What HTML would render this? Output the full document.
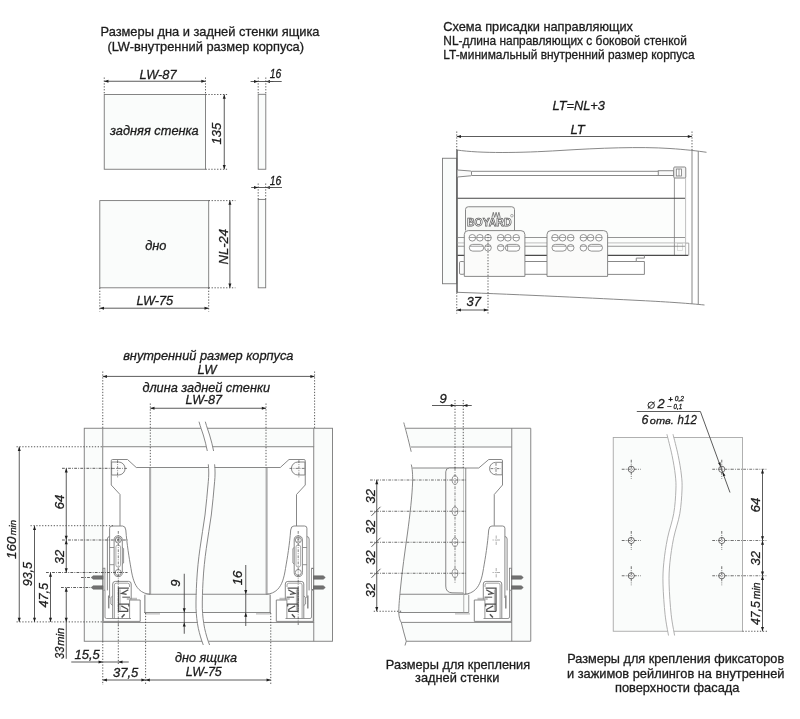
<!DOCTYPE html>
<html lang="ru"><head><meta charset="utf-8"><title>Размеры и схема присадки</title>
<style>
html,body{margin:0;padding:0;background:#fff}
body{width:800px;height:719px;overflow:hidden}
svg{display:block;will-change:transform;font-family:"Liberation Sans",sans-serif;fill:#1c1c1c}
svg text{fill:#1c1c1c;stroke:#1c1c1c;stroke-width:0.3px}
</style></head><body>
<svg width="800" height="719" viewBox="0 0 800 719">
<rect x="0" y="0" width="800" height="719" fill="#ffffff"/>
<g id="figA">
<text x="100.50" y="36.40" font-size="12.8" text-anchor="start" textLength="219.00" lengthAdjust="spacingAndGlyphs">Размеры дна и задней стенки ящика</text>
<text x="107.40" y="50.60" font-size="12.8" text-anchor="start" textLength="196.60" lengthAdjust="spacingAndGlyphs">(LW-внутренний размер корпуса)</text>
<rect x="104.25" y="94.50" width="101.25" height="74.75" fill="#fafcfb" stroke="#787878" stroke-width="0.9"/>
<line x1="104.25" y1="77.50" x2="104.25" y2="94.50" stroke="#4a4a4a" stroke-width="0.9" stroke-dasharray="1.3 1.6"/>
<line x1="205.50" y1="77.50" x2="205.50" y2="94.50" stroke="#4a4a4a" stroke-width="0.9" stroke-dasharray="1.3 1.6"/>
<line x1="104.25" y1="81.25" x2="205.50" y2="81.25" stroke="#4a4a4a" stroke-width="0.9"/>
<polygon points="104.25,81.25 108.45,79.75 108.45,82.75" fill="#1e1e1e"/>
<polygon points="205.50,81.25 201.30,82.75 201.30,79.75" fill="#1e1e1e"/>
<text x="139.50" y="78.60" font-size="13" font-style="italic" text-anchor="start" textLength="37.00" lengthAdjust="spacingAndGlyphs">LW-87</text>
<text x="110.00" y="135.00" font-size="12.8" font-style="italic" text-anchor="start" textLength="88.75" lengthAdjust="spacingAndGlyphs">задняя стенка</text>
<line x1="205.50" y1="94.50" x2="228.00" y2="94.50" stroke="#4a4a4a" stroke-width="0.9" stroke-dasharray="1.3 1.6"/>
<line x1="205.50" y1="169.25" x2="228.00" y2="169.25" stroke="#4a4a4a" stroke-width="0.9" stroke-dasharray="1.3 1.6"/>
<line x1="224.25" y1="94.50" x2="224.25" y2="169.25" stroke="#4a4a4a" stroke-width="0.9"/>
<polygon points="224.25,94.50 225.75,98.70 222.75,98.70" fill="#1e1e1e"/>
<polygon points="224.25,169.25 222.75,165.05 225.75,165.05" fill="#1e1e1e"/>
<text x="221.00" y="133.70" font-size="13" font-style="italic" text-anchor="middle" transform="rotate(-90 221.00 133.70)">135</text>
<rect x="258.20" y="94.30" width="7.60" height="74.95" fill="#fafcfb" stroke="#787878" stroke-width="0.9"/>
<line x1="258.20" y1="77.50" x2="258.20" y2="94.30" stroke="#4a4a4a" stroke-width="0.9" stroke-dasharray="1.3 1.6"/>
<line x1="265.80" y1="77.50" x2="265.80" y2="94.30" stroke="#4a4a4a" stroke-width="0.9" stroke-dasharray="1.3 1.6"/>
<line x1="250.60" y1="81.50" x2="273.40" y2="81.50" stroke="#4a4a4a" stroke-width="0.9"/>
<polygon points="258.20,81.50 254.00,83.00 254.00,80.00" fill="#1e1e1e"/>
<polygon points="265.80,81.50 270.00,80.00 270.00,83.00" fill="#1e1e1e"/>
<line x1="265.50" y1="81.50" x2="281.70" y2="81.50" stroke="#4a4a4a" stroke-width="0.9"/>
<text x="269.80" y="78.40" font-size="12.4" font-style="italic" text-anchor="start" textLength="11.60" lengthAdjust="spacingAndGlyphs">16</text>
<rect x="99.80" y="200.60" width="108.90" height="87.20" fill="#fafcfb" stroke="#787878" stroke-width="0.9"/>
<line x1="208.70" y1="200.60" x2="235.40" y2="200.60" stroke="#4a4a4a" stroke-width="0.9" stroke-dasharray="1.3 1.6"/>
<line x1="208.70" y1="287.80" x2="235.40" y2="287.80" stroke="#4a4a4a" stroke-width="0.9" stroke-dasharray="1.3 1.6"/>
<line x1="229.90" y1="200.60" x2="229.90" y2="287.80" stroke="#4a4a4a" stroke-width="0.9"/>
<polygon points="229.90,200.60 231.40,204.80 228.40,204.80" fill="#1e1e1e"/>
<polygon points="229.90,287.80 228.40,283.60 231.40,283.60" fill="#1e1e1e"/>
<text x="228.30" y="246.70" font-size="13" font-style="italic" text-anchor="middle" transform="rotate(-90 228.30 246.70)">NL-24</text>
<text x="145.20" y="250.10" font-size="12.8" font-style="italic" text-anchor="start">дно</text>
<line x1="99.80" y1="287.80" x2="99.80" y2="311.50" stroke="#4a4a4a" stroke-width="0.9" stroke-dasharray="1.3 1.6"/>
<line x1="208.70" y1="287.80" x2="208.70" y2="311.50" stroke="#4a4a4a" stroke-width="0.9" stroke-dasharray="1.3 1.6"/>
<line x1="99.80" y1="308.20" x2="208.70" y2="308.20" stroke="#4a4a4a" stroke-width="0.9"/>
<polygon points="99.80,308.20 104.00,306.70 104.00,309.70" fill="#1e1e1e"/>
<polygon points="208.70,308.20 204.50,309.70 204.50,306.70" fill="#1e1e1e"/>
<text x="136.40" y="305.00" font-size="13" font-style="italic" text-anchor="start" textLength="36.80" lengthAdjust="spacingAndGlyphs">LW-75</text>
<rect x="258.20" y="199.40" width="7.50" height="88.40" fill="#fafcfb" stroke="#787878" stroke-width="0.9"/>
<line x1="258.20" y1="183.50" x2="258.20" y2="199.40" stroke="#4a4a4a" stroke-width="0.9" stroke-dasharray="1.3 1.6"/>
<line x1="265.70" y1="183.50" x2="265.70" y2="199.40" stroke="#4a4a4a" stroke-width="0.9" stroke-dasharray="1.3 1.6"/>
<line x1="251.20" y1="187.50" x2="272.70" y2="187.50" stroke="#4a4a4a" stroke-width="0.9"/>
<polygon points="258.20,187.50 254.00,189.00 254.00,186.00" fill="#1e1e1e"/>
<polygon points="265.70,187.50 269.90,186.00 269.90,189.00" fill="#1e1e1e"/>
<line x1="265.70" y1="187.50" x2="282.00" y2="187.50" stroke="#4a4a4a" stroke-width="0.9"/>
<text x="269.80" y="184.80" font-size="12.4" font-style="italic" text-anchor="start" textLength="11.60" lengthAdjust="spacingAndGlyphs">16</text>
</g>
<g id="figB">
<text x="443.30" y="30.80" font-size="12.8" text-anchor="start" textLength="189.70" lengthAdjust="spacingAndGlyphs">Схема присадки направляющих</text>
<text x="443.30" y="44.80" font-size="12.8" text-anchor="start" textLength="243.50" lengthAdjust="spacingAndGlyphs">NL-длина направляющих с боковой стенкой</text>
<text x="443.30" y="58.80" font-size="12.8" text-anchor="start" textLength="251.30" lengthAdjust="spacingAndGlyphs">LT-минимальный внутренний размер корпуса</text>
<text x="552.50" y="109.80" font-size="13" font-style="italic" text-anchor="start" textLength="52.50" lengthAdjust="spacingAndGlyphs">LT=NL+3</text>
<text x="570.50" y="133.80" font-size="13" font-style="italic" text-anchor="start">LT</text>
<line x1="456.75" y1="131.50" x2="456.75" y2="150.00" stroke="#4a4a4a" stroke-width="0.9" stroke-dasharray="1.3 1.6"/>
<line x1="692.00" y1="131.50" x2="692.00" y2="150.50" stroke="#4a4a4a" stroke-width="0.9" stroke-dasharray="1.3 1.6"/>
<line x1="456.75" y1="136.50" x2="692.00" y2="136.50" stroke="#4a4a4a" stroke-width="0.9"/>
<polygon points="456.75,136.50 460.95,135.00 460.95,138.00" fill="#1e1e1e"/>
<polygon points="692.00,136.50 687.80,138.00 687.80,135.00" fill="#1e1e1e"/>
<rect x="442.50" y="158.25" width="14.25" height="125.50" fill="#fafcfb" stroke="#7a7a7a" stroke-width="0.9"/>
<rect x="457.5" y="198.25" width="227.5" height="57" fill="#fcfdfc"/>
<path d="M457,150 C480,153.5 520,153 560,150.5 C600,148 640,146.5 670,148.5 C685,149.5 698,151 706.5,152.3" fill="none" stroke="#7a7a7a" stroke-width="0.9"/>
<path d="M457,292.3 C520,294.5 600,298.5 640,300.5 C670,302 690,303.5 704.5,305" fill="none" stroke="#7a7a7a" stroke-width="0.9"/>
<line x1="457.00" y1="150.00" x2="457.00" y2="292.50" stroke="#5a5a5a" stroke-width="1.5"/>
<line x1="692.00" y1="150.60" x2="692.00" y2="304.00" stroke="#7a7a7a" stroke-width="0.9"/>
<line x1="698.25" y1="151.30" x2="698.25" y2="304.50" stroke="#7a7a7a" stroke-width="0.9"/>
<path d="M457.6,170 L470.5,171 Q471.5,171.1 471.5,172 L471.5,174.8 Q471.5,175.6 470.5,175.8 L457.6,177" fill="#fafafa" stroke="#7a7a7a" stroke-width="0.9"/>
<line x1="471.50" y1="171.30" x2="658.25" y2="171.30" stroke="#7a7a7a" stroke-width="0.9"/>
<line x1="471.50" y1="175.50" x2="658.25" y2="175.50" stroke="#7a7a7a" stroke-width="0.9"/>
<rect x="658.25" y="170.75" width="15.50" height="4.75" fill="#fafafa" stroke="#7a7a7a" stroke-width="0.9"/>
<rect x="673.75" y="167.00" width="12.00" height="11.00" fill="#f4f4f4" stroke="#7a7a7a" stroke-width="0.9" rx="1"/>
<rect x="676.30" y="169.00" width="5.20" height="7.00" fill="#fff" stroke="#7a7a7a" stroke-width="0.8"/>
<line x1="679.00" y1="169.00" x2="679.00" y2="176.00" stroke="#7a7a7a" stroke-width="0.7"/>
<line x1="674.40" y1="178.00" x2="674.40" y2="255.00" stroke="#8c8c8c" stroke-width="0.9"/>
<line x1="685.60" y1="178.00" x2="685.60" y2="255.00" stroke="#b8b8b8" stroke-width="0.9"/>
<line x1="457.50" y1="198.25" x2="685.00" y2="198.25" stroke="#444" stroke-width="1"/>
<path d="M685.6,243.1 L688.75,243.1 L688.75,255.4" fill="none" stroke="#9a9a9a" stroke-width="0.9"/>
<rect x="677.50" y="243.50" width="5.00" height="7.00" fill="none" stroke="#d0d0d0" stroke-width="0.7"/>
<line x1="457.50" y1="237.50" x2="685.00" y2="237.50" stroke="#7a7a7a" stroke-width="0.8"/>
<line x1="457.50" y1="242.90" x2="685.00" y2="242.90" stroke="#b0b0b0" stroke-width="0.8"/>
<line x1="457.50" y1="246.25" x2="685.00" y2="246.25" stroke="#7a7a7a" stroke-width="0.8"/>
<line x1="457.50" y1="255.40" x2="688.25" y2="255.40" stroke="#4a4a4a" stroke-width="1.1"/>
<line x1="525.00" y1="261.50" x2="547.00" y2="261.50" stroke="#7a7a7a" stroke-width="0.9"/>
<line x1="525.00" y1="274.30" x2="547.00" y2="274.30" stroke="#7a7a7a" stroke-width="0.9"/>
<path d="M608,261.5 L636.25,261.5 L636.25,258.1 L644.4,258.1 L644.4,255.4 M636.25,261.5 L644.4,261.5 L644.4,274.4 L608,274.4" fill="none" stroke="#7a7a7a" stroke-width="0.9"/>
<rect x="459.50" y="261.50" width="5.00" height="12.80" fill="#fafafa" stroke="#7a7a7a" stroke-width="0.9" rx="1.2"/>
<path d="M465.5,230.5 L465.5,209.5 Q465.5,206.75 468.3,206.75 L511.7,206.75 Q514.5,206.75 514.5,209.5 L514.5,230.5" fill="#f8f9f7" stroke="#7a7a7a" stroke-width="0.9"/>
<text x="467" y="226.1" font-size="11.6" font-weight="bold" textLength="44.5" lengthAdjust="spacingAndGlyphs" style="fill:#fff;stroke:#5a5a5a;stroke-width:0.75px">BOYARD</text>
<path d="M491.9,217.4 L493.3,212.3 L494.6,217.4 M494.7,217.4 L496.1,212.3 L497.4,217.4 M497.5,217.4 L498.9,212.3 L500.2,217.4" fill="none" stroke="#555" stroke-width="0.7"/>
<circle cx="511.9" cy="215.7" r="1.3" fill="none" stroke="#7a7a7a" stroke-width="0.6"/>
<path d="M464.3,276.4 L464.3,234.5 Q464.3,230.6 468.3,230.6 L520.9,230.6 Q524.9,230.6 524.9,234.5 L524.9,276.4 Z" fill="#fbfbfa" stroke="#7a7a7a" stroke-width="0.9"/>
<circle cx="472.30" cy="237.8" r="3.3" fill="#fff" stroke="#7a7a7a" stroke-width="0.8"/>
<line x1="469.10" y1="237.50" x2="475.50" y2="237.50" stroke="#7a7a7a" stroke-width="0.7"/>
<circle cx="479.90" cy="237.8" r="3.3" fill="#fff" stroke="#7a7a7a" stroke-width="0.8"/>
<line x1="476.70" y1="237.50" x2="483.10" y2="237.50" stroke="#7a7a7a" stroke-width="0.7"/>
<circle cx="488.00" cy="237.8" r="3.3" fill="#fff" stroke="#7a7a7a" stroke-width="0.8"/>
<line x1="484.80" y1="237.50" x2="491.20" y2="237.50" stroke="#7a7a7a" stroke-width="0.7"/>
<circle cx="500.70" cy="237.8" r="3.3" fill="#fff" stroke="#7a7a7a" stroke-width="0.8"/>
<line x1="497.50" y1="237.50" x2="503.90" y2="237.50" stroke="#7a7a7a" stroke-width="0.7"/>
<circle cx="507.90" cy="237.8" r="3.3" fill="#fff" stroke="#7a7a7a" stroke-width="0.8"/>
<line x1="504.70" y1="237.50" x2="511.10" y2="237.50" stroke="#7a7a7a" stroke-width="0.7"/>
<circle cx="516.20" cy="237.8" r="3.3" fill="#fff" stroke="#7a7a7a" stroke-width="0.8"/>
<line x1="513.00" y1="237.50" x2="519.40" y2="237.50" stroke="#7a7a7a" stroke-width="0.7"/>
<rect x="469.30" y="244.4" width="14.4" height="6.7" rx="3.35" fill="#fff" stroke="#7a7a7a" stroke-width="0.8"/>
<circle cx="488.00" cy="247.75" r="3.3" fill="#fff" stroke="#7a7a7a" stroke-width="0.8"/>
<circle cx="500.70" cy="247.75" r="3.3" fill="#fff" stroke="#7a7a7a" stroke-width="0.8"/>
<rect x="505.30" y="244.4" width="14.5" height="6.7" rx="3.35" fill="#fff" stroke="#7a7a7a" stroke-width="0.8"/>
<line x1="469.90" y1="246.25" x2="483.10" y2="246.25" stroke="#7a7a7a" stroke-width="0.7"/>
<line x1="485.00" y1="246.25" x2="491.00" y2="246.25" stroke="#7a7a7a" stroke-width="0.7"/>
<line x1="497.70" y1="246.25" x2="503.70" y2="246.25" stroke="#7a7a7a" stroke-width="0.7"/>
<line x1="505.90" y1="246.25" x2="519.20" y2="246.25" stroke="#7a7a7a" stroke-width="0.7"/>
<line x1="507.60" y1="244.60" x2="507.60" y2="250.90" stroke="#7a7a7a" stroke-width="0.7"/>
<path d="M547,276.4 L547,234.5 Q547,230.6 551,230.6 L603.6,230.6 Q607.6,230.6 607.6,234.5 L607.6,276.4 Z" fill="#fbfbfa" stroke="#7a7a7a" stroke-width="0.9"/>
<circle cx="555.00" cy="237.8" r="3.3" fill="#fff" stroke="#7a7a7a" stroke-width="0.8"/>
<line x1="551.80" y1="237.50" x2="558.20" y2="237.50" stroke="#7a7a7a" stroke-width="0.7"/>
<circle cx="562.60" cy="237.8" r="3.3" fill="#fff" stroke="#7a7a7a" stroke-width="0.8"/>
<line x1="559.40" y1="237.50" x2="565.80" y2="237.50" stroke="#7a7a7a" stroke-width="0.7"/>
<circle cx="570.70" cy="237.8" r="3.3" fill="#fff" stroke="#7a7a7a" stroke-width="0.8"/>
<line x1="567.50" y1="237.50" x2="573.90" y2="237.50" stroke="#7a7a7a" stroke-width="0.7"/>
<circle cx="583.40" cy="237.8" r="3.3" fill="#fff" stroke="#7a7a7a" stroke-width="0.8"/>
<line x1="580.20" y1="237.50" x2="586.60" y2="237.50" stroke="#7a7a7a" stroke-width="0.7"/>
<circle cx="590.60" cy="237.8" r="3.3" fill="#fff" stroke="#7a7a7a" stroke-width="0.8"/>
<line x1="587.40" y1="237.50" x2="593.80" y2="237.50" stroke="#7a7a7a" stroke-width="0.7"/>
<circle cx="598.90" cy="237.8" r="3.3" fill="#fff" stroke="#7a7a7a" stroke-width="0.8"/>
<line x1="595.70" y1="237.50" x2="602.10" y2="237.50" stroke="#7a7a7a" stroke-width="0.7"/>
<rect x="552.00" y="244.4" width="14.4" height="6.7" rx="3.35" fill="#fff" stroke="#7a7a7a" stroke-width="0.8"/>
<circle cx="570.70" cy="247.75" r="3.3" fill="#fff" stroke="#7a7a7a" stroke-width="0.8"/>
<circle cx="583.40" cy="247.75" r="3.3" fill="#fff" stroke="#7a7a7a" stroke-width="0.8"/>
<rect x="588.00" y="244.4" width="14.5" height="6.7" rx="3.35" fill="#fff" stroke="#7a7a7a" stroke-width="0.8"/>
<line x1="552.60" y1="246.25" x2="565.80" y2="246.25" stroke="#7a7a7a" stroke-width="0.7"/>
<line x1="567.70" y1="246.25" x2="573.70" y2="246.25" stroke="#7a7a7a" stroke-width="0.7"/>
<line x1="580.40" y1="246.25" x2="586.40" y2="246.25" stroke="#7a7a7a" stroke-width="0.7"/>
<line x1="588.60" y1="246.25" x2="601.90" y2="246.25" stroke="#7a7a7a" stroke-width="0.7"/>
<line x1="488.00" y1="234.00" x2="488.00" y2="313.50" stroke="#4a4a4a" stroke-width="0.9" stroke-dasharray="1.3 1.6"/>
<line x1="456.75" y1="292.50" x2="456.75" y2="313.50" stroke="#4a4a4a" stroke-width="0.9" stroke-dasharray="1.3 1.6"/>
<line x1="456.75" y1="310.00" x2="488.00" y2="310.00" stroke="#4a4a4a" stroke-width="0.9"/>
<polygon points="456.75,310.00 460.95,308.50 460.95,311.50" fill="#1e1e1e"/>
<polygon points="488.00,310.00 483.80,311.50 483.80,308.50" fill="#1e1e1e"/>
<text x="466.50" y="306.00" font-size="13" font-style="italic" text-anchor="start">37</text>
</g>
<g id="figC">
<text x="123.20" y="360.00" font-size="12.8" font-style="italic" text-anchor="start" textLength="170.30" lengthAdjust="spacingAndGlyphs">внутренний размер корпуса</text>
<text x="197.60" y="373.50" font-size="13" font-style="italic" text-anchor="start">LW</text>
<text x="142.40" y="392.00" font-size="12.8" font-style="italic" text-anchor="start" textLength="127.60" lengthAdjust="spacingAndGlyphs">длина задней стенки</text>
<text x="185.60" y="404.30" font-size="13" font-style="italic" text-anchor="start" textLength="36.40" lengthAdjust="spacingAndGlyphs">LW-87</text>
<rect x="84.25" y="428.25" width="248.25" height="213.00" fill="#fafcfb" stroke="#7a7a7a" stroke-width="0.9"/>
<rect x="102.75" y="446.75" width="211.00" height="175.65" fill="#fff" stroke="#7a7a7a" stroke-width="0.9"/>
<line x1="102.75" y1="428.25" x2="102.75" y2="446.75" stroke="#7a7a7a" stroke-width="0.9"/>
<line x1="102.75" y1="622.40" x2="102.75" y2="641.25" stroke="#7a7a7a" stroke-width="0.9"/>
<line x1="313.75" y1="428.25" x2="313.75" y2="446.75" stroke="#7a7a7a" stroke-width="0.9"/>
<line x1="313.75" y1="622.40" x2="313.75" y2="641.25" stroke="#7a7a7a" stroke-width="0.9"/>
<rect x="150" y="467.5" width="117" height="127" fill="#fafcfb"/>
<rect x="144.2" y="594.25" width="126.5" height="18.3" fill="#fafcfb"/>
<line x1="150.10" y1="467.50" x2="150.10" y2="594.25" stroke="#adadad" stroke-width="2.1"/>
<line x1="266.60" y1="467.50" x2="266.60" y2="594.25" stroke="#adadad" stroke-width="2.1"/>
<line x1="149.50" y1="467.50" x2="267.00" y2="467.50" stroke="#7a7a7a" stroke-width="0.9"/>
<line x1="144.80" y1="594.25" x2="144.80" y2="613.00" stroke="#a8a8a8" stroke-width="1.6"/>
<line x1="270.20" y1="594.25" x2="270.20" y2="613.00" stroke="#a8a8a8" stroke-width="1.6"/>
<line x1="144.20" y1="594.25" x2="270.75" y2="594.25" stroke="#7a7a7a" stroke-width="0.9"/>
<line x1="144.20" y1="612.50" x2="270.75" y2="612.50" stroke="#7a7a7a" stroke-width="0.9"/>
<path d="M145,613.9 L160,613.9 M256,613.9 L270.5,613.9" fill="none" stroke="#9a9a9a" stroke-width="0.8"/>
<path d="M199,421.7 L205.3,421.7 L213.8,451 L207.3,451 Z M208.3,464.3 L214.6,464.3 L214.7,481.7 L211.7,515 L206.3,548.3 L203.3,581.7 L202.5,608.3 L204.7,628.3 L209.6,645 L203.3,645 L198.3,628.3 L196,608.3 L196.7,581.7 L200,548.3 L205,515 L208.3,481.7 Z" fill="#fff" stroke="none"/>
<path d="M199,421.7 C200.5,427 202,431 203.3,435 C205,440.5 206.3,446 207.3,451" fill="none" stroke="#7a7a7a" stroke-width="0.9"/>
<path d="M205.30,421.70 C206.80,427.00 208.30,431.00 209.60,435.00 C211.30,440.50 212.60,446.00 213.60,451.00 " fill="none" stroke="#7a7a7a" stroke-width="0.9"/>
<path d="M208.3,464.3 C208.9,470 208.9,476 208.3,481.7 C207.3,493 206.3,504 205,515 C203.5,526 201.5,537 200,548.3 C198.5,559 197.3,570 196.7,581.7 C196.2,591 195.9,600 196,608.3 C196.3,615 197,622 198.3,628.3 C199.6,634 201.3,640 203.3,645" fill="none" stroke="#7a7a7a" stroke-width="0.9"/>
<path d="M214.60,464.30 C215.20,470.00 215.20,476.00 214.60,481.70 C213.60,493.00 212.60,504.00 211.30,515.00 C209.80,526.00 207.80,537.00 206.30,548.30 C204.80,559.00 203.60,570.00 203.00,581.70 C202.50,591.00 202.20,600.00 202.30,608.30 C202.60,615.00 203.30,622.00 204.60,628.30 C205.90,634.00 207.60,640.00 209.60,645.00 " fill="none" stroke="#7a7a7a" stroke-width="0.9"/>
<path d="M150,467.5 L136.25,467.5 L127.5,459.5 L112.6,459.5 Q111.25,459.5 111.25,460.8 L111.25,485 L120,494.5 L120,526" fill="none" stroke="#7a7a7a" stroke-width="0.9"/>
<path d="M111.6,462 L118.6,462 A6.5,6.5 0 0 1 118.6,475 L111.6,475 Z" fill="#fcfcfc" stroke="#7a7a7a" stroke-width="0.9"/>
<line x1="112.00" y1="468.40" x2="127.50" y2="468.40" stroke="#4a4a4a" stroke-width="0.7" stroke-dasharray="2.8 1.2 0.9 1.2"/>
<line x1="117.60" y1="460.20" x2="117.60" y2="477.50" stroke="#4a4a4a" stroke-width="0.7" stroke-dasharray="2.8 1.2 0.9 1.2"/>
<path d="M109.6,598 L109.6,528.2 Q109.6,526 112,526 L122.6,526 Q125.4,526 125.8,530 C127,545 129,557 131,568.5 C132.5,578 134.5,585 139,589.5 C142,592.5 146,594 150,594.25" fill="#fff" stroke="#7a7a7a" stroke-width="0.9"/>
<path d="M109.6,536.5 Q107.4,536.8 107.4,539 L107.4,590.4" fill="none" stroke="#7a7a7a" stroke-width="0.9"/>
<path d="M109.6,547.5 L114,547.5 M109.6,564.7 L114,564.7" fill="none" stroke="#7a7a7a" stroke-width="0.8"/>
<rect x="114.1" y="535.9" width="8.2" height="40.7" rx="4.1" fill="#fff" stroke="#7a7a7a" stroke-width="0.9"/>
<rect x="115.9" y="545" width="4.6" height="22" rx="2" fill="none" stroke="#9a9a9a" stroke-width="0.8"/>
<circle cx="118.2" cy="540" r="3" fill="none" stroke="#7a7a7a" stroke-width="0.8"/>
<circle cx="118.2" cy="572.5" r="3" fill="none" stroke="#7a7a7a" stroke-width="0.8"/>
<path d="M116.3,538 L120.1,542 M120.1,538 L116.3,542" fill="none" stroke="#7a7a7a" stroke-width="0.6"/>
<path d="M122.3,547.5 L123.6,548.5 L123.6,563 L122.3,564" fill="none" stroke="#7a7a7a" stroke-width="0.8"/>
<rect x="103.10" y="568.20" width="1.80" height="22.00" fill="#fff" stroke="#7a7a7a" stroke-width="0.8"/>
<path d="M103,575.8 L93.2,575.8 L91.2,577.5 L93.2,579.2 L103,579.2 Z" fill="#727272" stroke="#5a5a5a" stroke-width="0.5"/>
<path d="M103,585.8 L93.2,585.8 L91.2,587.5 L93.2,589.2 L103,589.2 Z" fill="#727272" stroke="#5a5a5a" stroke-width="0.5"/>
<path d="M103.2,590.4 L103.2,621.4 L140.2,621.4 L140.2,600 L129.6,600" fill="none" stroke="#7a7a7a" stroke-width="0.9"/>
<path d="M105,590.4 L105,617 Q105,618.5 106.5,618.5 L131,618.5" fill="none" stroke="#7a7a7a" stroke-width="0.8"/>
<line x1="108.70" y1="595.50" x2="108.70" y2="608.40" stroke="#8a8a8a" stroke-width="1.5"/>
<path d="M112.7,618.5 L112.7,584 Q112.7,581.4 115.3,581.4 L128.6,581.4 Q131.2,581.4 131.2,584 L131.2,599 L126.8,599" fill="#fff" stroke="#7a7a7a" stroke-width="0.9"/>
<path d="M114.4,618.5 L114.4,585 Q114.4,583.2 116.2,583.2 L127.7,583.2 Q129.5,583.2 129.5,585 L129.5,587" fill="none" stroke="#7a7a7a" stroke-width="0.7"/>
<path d="M112.7,596 L110.9,597.5 L110.9,604 L112.7,605.5" fill="none" stroke="#7a7a7a" stroke-width="0.8"/>
<path d="M118.5,611.4 L118.5,588.2 L128.9,588.2" fill="none" stroke="#505050" stroke-width="1.3"/>
<line x1="120.10" y1="589.50" x2="120.10" y2="610.50" stroke="#9a9a9a" stroke-width="0.8"/>
<path d="M128.3,589.7 L121.6,593.5 L126.6,594.3" fill="none" stroke="#505050" stroke-width="1.3"/>
<path d="M122.3,597.2 L130,597.2" fill="none" stroke="#6a6a6a" stroke-width="1.2"/>
<path d="M118.5,604.2 L128.9,604.2 L128.9,606.5" fill="none" stroke="#505050" stroke-width="1.3"/>
<path d="M121.3,605.9 L127.7,609.3 L127.7,611.3 L118.5,611.3" fill="none" stroke="#505050" stroke-width="1.3"/>
<path d="M121.6,617.6 L124.6,614.2" fill="none" stroke="#505050" stroke-width="1.5"/>
<path d="M130,598.3 L137,598.3 M130.5,599.3 L137,599.3" fill="none" stroke="#9a9a9a" stroke-width="0.7"/>
<line x1="129.60" y1="600.00" x2="129.60" y2="618.50" stroke="#7a7a7a" stroke-width="0.8"/>
<line x1="118.30" y1="531.00" x2="118.30" y2="625.00" stroke="#4a4a4a" stroke-width="0.7" stroke-dasharray="2.8 1.2 0.9 1.2"/>
<g transform="translate(416.5 0) scale(-1 1)">
<path d="M150,467.5 L136.25,467.5 L127.5,459.5 L112.6,459.5 Q111.25,459.5 111.25,460.8 L111.25,485 L120,494.5 L120,526" fill="none" stroke="#7a7a7a" stroke-width="0.9"/>
<path d="M111.6,462 L118.6,462 A6.5,6.5 0 0 1 118.6,475 L111.6,475 Z" fill="#fcfcfc" stroke="#7a7a7a" stroke-width="0.9"/>
<line x1="112.00" y1="468.40" x2="127.50" y2="468.40" stroke="#4a4a4a" stroke-width="0.7" stroke-dasharray="2.8 1.2 0.9 1.2"/>
<line x1="117.60" y1="460.20" x2="117.60" y2="477.50" stroke="#4a4a4a" stroke-width="0.7" stroke-dasharray="2.8 1.2 0.9 1.2"/>
<path d="M109.6,598 L109.6,528.2 Q109.6,526 112,526 L122.6,526 Q125.4,526 125.8,530 C127,545 129,557 131,568.5 C132.5,578 134.5,585 139,589.5 C142,592.5 146,594 150,594.25" fill="#fff" stroke="#7a7a7a" stroke-width="0.9"/>
<path d="M109.6,536.5 Q107.4,536.8 107.4,539 L107.4,590.4" fill="none" stroke="#7a7a7a" stroke-width="0.9"/>
<path d="M109.6,547.5 L114,547.5 M109.6,564.7 L114,564.7" fill="none" stroke="#7a7a7a" stroke-width="0.8"/>
<rect x="114.1" y="535.9" width="8.2" height="40.7" rx="4.1" fill="#fff" stroke="#7a7a7a" stroke-width="0.9"/>
<rect x="115.9" y="545" width="4.6" height="22" rx="2" fill="none" stroke="#9a9a9a" stroke-width="0.8"/>
<circle cx="118.2" cy="540" r="3" fill="none" stroke="#7a7a7a" stroke-width="0.8"/>
<circle cx="118.2" cy="572.5" r="3" fill="none" stroke="#7a7a7a" stroke-width="0.8"/>
<path d="M116.3,538 L120.1,542 M120.1,538 L116.3,542" fill="none" stroke="#7a7a7a" stroke-width="0.6"/>
<path d="M122.3,547.5 L123.6,548.5 L123.6,563 L122.3,564" fill="none" stroke="#7a7a7a" stroke-width="0.8"/>
<rect x="103.10" y="568.20" width="1.80" height="22.00" fill="#fff" stroke="#7a7a7a" stroke-width="0.8"/>
<path d="M103,575.8 L93.2,575.8 L91.2,577.5 L93.2,579.2 L103,579.2 Z" fill="#727272" stroke="#5a5a5a" stroke-width="0.5"/>
<path d="M103,585.8 L93.2,585.8 L91.2,587.5 L93.2,589.2 L103,589.2 Z" fill="#727272" stroke="#5a5a5a" stroke-width="0.5"/>
<path d="M103.2,590.4 L103.2,621.4 L140.2,621.4 L140.2,600 L129.6,600" fill="none" stroke="#7a7a7a" stroke-width="0.9"/>
<path d="M105,590.4 L105,617 Q105,618.5 106.5,618.5 L131,618.5" fill="none" stroke="#7a7a7a" stroke-width="0.8"/>
<line x1="108.70" y1="595.50" x2="108.70" y2="608.40" stroke="#8a8a8a" stroke-width="1.5"/>
<path d="M112.7,618.5 L112.7,584 Q112.7,581.4 115.3,581.4 L128.6,581.4 Q131.2,581.4 131.2,584 L131.2,599 L126.8,599" fill="#fff" stroke="#7a7a7a" stroke-width="0.9"/>
<path d="M114.4,618.5 L114.4,585 Q114.4,583.2 116.2,583.2 L127.7,583.2 Q129.5,583.2 129.5,585 L129.5,587" fill="none" stroke="#7a7a7a" stroke-width="0.7"/>
<path d="M112.7,596 L110.9,597.5 L110.9,604 L112.7,605.5" fill="none" stroke="#7a7a7a" stroke-width="0.8"/>
<path d="M118.5,611.4 L118.5,588.2 L128.9,588.2" fill="none" stroke="#505050" stroke-width="1.3"/>
<line x1="120.10" y1="589.50" x2="120.10" y2="610.50" stroke="#9a9a9a" stroke-width="0.8"/>
<path d="M128.3,589.7 L121.6,593.5 L126.6,594.3" fill="none" stroke="#505050" stroke-width="1.3"/>
<path d="M122.3,597.2 L130,597.2" fill="none" stroke="#6a6a6a" stroke-width="1.2"/>
<path d="M118.5,604.2 L128.9,604.2 L128.9,606.5" fill="none" stroke="#505050" stroke-width="1.3"/>
<path d="M121.3,605.9 L127.7,609.3 L127.7,611.3 L118.5,611.3" fill="none" stroke="#505050" stroke-width="1.3"/>
<path d="M121.6,617.6 L124.6,614.2" fill="none" stroke="#505050" stroke-width="1.5"/>
<path d="M130,598.3 L137,598.3 M130.5,599.3 L137,599.3" fill="none" stroke="#9a9a9a" stroke-width="0.7"/>
<line x1="129.60" y1="600.00" x2="129.60" y2="618.50" stroke="#7a7a7a" stroke-width="0.8"/>
<line x1="118.30" y1="531.00" x2="118.30" y2="625.00" stroke="#4a4a4a" stroke-width="0.7" stroke-dasharray="2.8 1.2 0.9 1.2"/>
</g>
<line x1="102.75" y1="371.50" x2="102.75" y2="428.25" stroke="#4a4a4a" stroke-width="0.9" stroke-dasharray="1.3 1.6"/>
<line x1="314.60" y1="371.50" x2="314.60" y2="428.25" stroke="#4a4a4a" stroke-width="0.9" stroke-dasharray="1.3 1.6"/>
<line x1="102.75" y1="376.40" x2="314.60" y2="376.40" stroke="#4a4a4a" stroke-width="0.9"/>
<polygon points="102.75,376.40 106.95,374.90 106.95,377.90" fill="#1e1e1e"/>
<polygon points="314.60,376.40 310.40,377.90 310.40,374.90" fill="#1e1e1e"/>
<line x1="150.30" y1="403.50" x2="150.30" y2="467.50" stroke="#4a4a4a" stroke-width="0.9" stroke-dasharray="1.3 1.6"/>
<line x1="266.00" y1="403.50" x2="266.00" y2="467.50" stroke="#4a4a4a" stroke-width="0.9" stroke-dasharray="1.3 1.6"/>
<line x1="150.30" y1="408.25" x2="266.00" y2="408.25" stroke="#4a4a4a" stroke-width="0.9"/>
<polygon points="150.30,408.25 154.50,406.75 154.50,409.75" fill="#1e1e1e"/>
<polygon points="266.00,408.25 261.80,409.75 261.80,406.75" fill="#1e1e1e"/>
<line x1="16.50" y1="446.75" x2="102.75" y2="446.75" stroke="#4a4a4a" stroke-width="0.9" stroke-dasharray="1.3 1.6"/>
<line x1="16.50" y1="621.90" x2="102.75" y2="621.90" stroke="#4a4a4a" stroke-width="0.9" stroke-dasharray="1.3 1.6"/>
<line x1="19.25" y1="446.75" x2="19.25" y2="621.90" stroke="#4a4a4a" stroke-width="0.9"/>
<polygon points="19.25,446.75 20.75,450.95 17.75,450.95" fill="#1e1e1e"/>
<polygon points="19.25,621.90 17.75,617.70 20.75,617.70" fill="#1e1e1e"/>
<text x="16.20" y="559.00" font-size="13" font-style="italic" text-anchor="start" textLength="22.40" lengthAdjust="spacingAndGlyphs" transform="rotate(-90 16.20 559.00)">160</text>
<text x="16.20" y="535.30" font-size="9.8" font-style="italic" text-anchor="start" textLength="15.30" lengthAdjust="spacingAndGlyphs" transform="rotate(-90 16.20 535.30)">min</text>
<line x1="62.00" y1="468.30" x2="112.00" y2="468.30" stroke="#4a4a4a" stroke-width="0.9" stroke-dasharray="2.8 1.2 0.9 1.2"/>
<line x1="62.00" y1="540.00" x2="127.50" y2="540.00" stroke="#4a4a4a" stroke-width="0.9" stroke-dasharray="2.8 1.2 0.9 1.2"/>
<line x1="46.00" y1="572.50" x2="127.50" y2="572.50" stroke="#4a4a4a" stroke-width="0.9" stroke-dasharray="2.8 1.2 0.9 1.2"/>
<line x1="66.25" y1="468.30" x2="66.25" y2="540.00" stroke="#4a4a4a" stroke-width="0.9"/>
<polygon points="66.25,468.30 67.75,472.50 64.75,472.50" fill="#1e1e1e"/>
<polygon points="66.25,540.00 64.75,535.80 67.75,535.80" fill="#1e1e1e"/>
<line x1="66.25" y1="540.00" x2="66.25" y2="572.50" stroke="#4a4a4a" stroke-width="0.9"/>
<polygon points="66.25,540.00 67.75,544.20 64.75,544.20" fill="#1e1e1e"/>
<polygon points="66.25,572.50 64.75,568.30 67.75,568.30" fill="#1e1e1e"/>
<text x="64.30" y="502.00" font-size="13" font-style="italic" text-anchor="middle" transform="rotate(-90 64.30 502.00)">64</text>
<text x="64.30" y="557.00" font-size="13" font-style="italic" text-anchor="middle" transform="rotate(-90 64.30 557.00)">32</text>
<line x1="30.50" y1="525.70" x2="113.50" y2="525.70" stroke="#4a4a4a" stroke-width="0.9" stroke-dasharray="1.3 1.6"/>
<line x1="34.50" y1="525.70" x2="34.50" y2="621.90" stroke="#4a4a4a" stroke-width="0.9"/>
<polygon points="34.50,525.70 36.00,529.90 33.00,529.90" fill="#1e1e1e"/>
<polygon points="34.50,621.90 33.00,617.70 36.00,617.70" fill="#1e1e1e"/>
<text x="32.00" y="586.30" font-size="13" font-style="italic" text-anchor="start" textLength="24.30" lengthAdjust="spacingAndGlyphs" transform="rotate(-90 32.00 586.30)">93,5</text>
<line x1="50.50" y1="572.50" x2="50.50" y2="621.90" stroke="#4a4a4a" stroke-width="0.9"/>
<polygon points="50.50,572.50 52.00,576.70 49.00,576.70" fill="#1e1e1e"/>
<polygon points="50.50,621.90 49.00,617.70 52.00,617.70" fill="#1e1e1e"/>
<text x="48.00" y="607.60" font-size="13" font-style="italic" text-anchor="start" textLength="24.80" lengthAdjust="spacingAndGlyphs" transform="rotate(-90 48.00 607.60)">47,5</text>
<line x1="61.00" y1="587.50" x2="91.00" y2="587.50" stroke="#4a4a4a" stroke-width="0.9" stroke-dasharray="2.8 1.2 0.9 1.2"/>
<line x1="81.00" y1="577.50" x2="91.00" y2="577.50" stroke="#4a4a4a" stroke-width="0.9" stroke-dasharray="2.8 1.2 0.9 1.2"/>
<line x1="66.25" y1="587.50" x2="66.25" y2="658.80" stroke="#4a4a4a" stroke-width="0.9"/>
<polygon points="66.25,587.50 67.75,591.70 64.75,591.70" fill="#1e1e1e"/>
<polygon points="66.25,621.90 64.75,617.70 67.75,617.70" fill="#1e1e1e"/>
<text x="63.80" y="659.00" font-size="13" font-style="italic" text-anchor="start" textLength="12.40" lengthAdjust="spacingAndGlyphs" transform="rotate(-90 63.80 659.00)">33</text>
<text x="63.80" y="645.80" font-size="11.2" font-style="italic" text-anchor="start" textLength="18.00" lengthAdjust="spacingAndGlyphs" transform="rotate(-90 63.80 645.80)">min</text>
<line x1="102.75" y1="641.25" x2="102.75" y2="685.00" stroke="#4a4a4a" stroke-width="0.9" stroke-dasharray="1.3 1.6"/>
<line x1="118.30" y1="625.00" x2="118.30" y2="664.00" stroke="#4a4a4a" stroke-width="0.9" stroke-dasharray="1.3 1.6"/>
<line x1="145.60" y1="613.00" x2="145.60" y2="685.00" stroke="#4a4a4a" stroke-width="0.9" stroke-dasharray="1.3 1.6"/>
<line x1="270.75" y1="613.00" x2="270.75" y2="684.00" stroke="#4a4a4a" stroke-width="0.9" stroke-dasharray="1.3 1.6"/>
<line x1="71.25" y1="662.00" x2="128.75" y2="662.00" stroke="#4a4a4a" stroke-width="0.9"/>
<polygon points="102.75,662.00 98.55,663.50 98.55,660.50" fill="#1e1e1e"/>
<polygon points="118.30,662.00 122.50,660.50 122.50,663.50" fill="#1e1e1e"/>
<text x="74.50" y="658.80" font-size="13" font-style="italic" text-anchor="start">15,5</text>
<line x1="102.75" y1="680.00" x2="145.60" y2="680.00" stroke="#4a4a4a" stroke-width="0.9"/>
<polygon points="102.75,680.00 106.95,678.50 106.95,681.50" fill="#1e1e1e"/>
<polygon points="145.60,680.00 141.40,681.50 141.40,678.50" fill="#1e1e1e"/>
<line x1="145.60" y1="680.00" x2="270.75" y2="680.00" stroke="#4a4a4a" stroke-width="0.9"/>
<polygon points="145.60,680.00 149.80,678.50 149.80,681.50" fill="#1e1e1e"/>
<polygon points="270.75,680.00 266.55,681.50 266.55,678.50" fill="#1e1e1e"/>
<text x="113.00" y="677.00" font-size="13" font-style="italic" text-anchor="start">37,5</text>
<text x="175.00" y="662.00" font-size="12.8" font-style="italic" text-anchor="start" textLength="62.00" lengthAdjust="spacingAndGlyphs">дно ящика</text>
<text x="185.75" y="676.30" font-size="13" font-style="italic" text-anchor="start" textLength="36.00" lengthAdjust="spacingAndGlyphs">LW-75</text>
<line x1="184.25" y1="573.75" x2="184.25" y2="633.75" stroke="#4a4a4a" stroke-width="0.9"/>
<polygon points="184.25,612.50 182.75,608.30 185.75,608.30" fill="#1e1e1e"/>
<polygon points="184.25,622.40 185.75,626.60 182.75,626.60" fill="#1e1e1e"/>
<text x="180.00" y="583.00" font-size="13" font-style="italic" text-anchor="middle" transform="rotate(-90 180.00 583.00)">9</text>
<line x1="245.75" y1="565.00" x2="245.75" y2="626.00" stroke="#4a4a4a" stroke-width="0.9"/>
<polygon points="245.75,594.25 244.25,590.05 247.25,590.05" fill="#1e1e1e"/>
<polygon points="245.75,612.50 247.25,616.70 244.25,616.70" fill="#1e1e1e"/>
<text x="242.00" y="578.00" font-size="13" font-style="italic" text-anchor="middle" transform="rotate(-90 242.00 578.00)">16</text>
</g>
<g id="figD">
<path d="M406,428.25 L530.75,428.25 L530.75,641.25 L406.25,641.25 C404.5,635 402.8,629 401.25,622.4 L511.75,622.4 L511.75,447 L411,447 C409.5,441 407.7,434.5 406,428.25 Z" fill="#fafcfb" stroke="none" stroke-width="0"/>
<line x1="406.00" y1="428.25" x2="530.75" y2="428.25" stroke="#7a7a7a" stroke-width="0.9"/>
<line x1="530.75" y1="428.25" x2="530.75" y2="641.25" stroke="#7a7a7a" stroke-width="0.9"/>
<line x1="406.25" y1="641.25" x2="530.75" y2="641.25" stroke="#7a7a7a" stroke-width="0.9"/>
<line x1="411.00" y1="447.00" x2="511.75" y2="447.00" stroke="#7a7a7a" stroke-width="0.9"/>
<line x1="401.25" y1="622.40" x2="511.75" y2="622.40" stroke="#7a7a7a" stroke-width="0.9"/>
<line x1="511.75" y1="428.25" x2="511.75" y2="641.25" stroke="#7a7a7a" stroke-width="0.9"/>
<path d="M403.75,422.5 C405,427 408.5,440 411.2,451.75" fill="none" stroke="#7a7a7a" stroke-width="0.9"/>
<path d="M411,468 L465.75,468 L465.75,594.25 L468.75,594.25 L468.75,612.5 L398.75,612.5 C398.9,606 399.4,600 400,594.25 C401.5,578 404,560 406,545 C408,530 410.5,510 411.8,495 C412.6,485 412.9,476 412.5,468 Z" fill="#fafcfb" stroke="none" stroke-width="0"/>
<path d="M411.25,464.5 C412.3,468 412.8,475 412.6,482 C412.2,495 410,515 407.5,533 C405,551 402,572 400.3,590 C399.3,600 398.7,608 398.8,613 C399,617 400,621 401.25,622.4 M401.25,622.4 C402.8,629 404.5,635 406.25,641.25 L405,645.5" fill="none" stroke="#7a7a7a" stroke-width="0.9"/>
<line x1="412.50" y1="468.00" x2="478.75" y2="468.00" stroke="#7a7a7a" stroke-width="0.9"/>
<path d="M478.75,468 L488.75,459.5 L501.3,459.5 Q502.5,459.5 502.5,460.8 L502.5,485 L494.25,494.5 L494.25,525.75" fill="none" stroke="#7a7a7a" stroke-width="0.9"/>
<path d="M502.2,462.3 L495.8,462.3 A6.2,6.2 0 0 0 495.8,474.8 L502.2,474.8 Z" fill="#fcfcfc" stroke="#7a7a7a" stroke-width="0.9"/>
<line x1="490.50" y1="468.60" x2="501.00" y2="468.60" stroke="#4a4a4a" stroke-width="0.7" stroke-dasharray="2.8 1.2 0.9 1.2"/>
<line x1="496.00" y1="463.00" x2="496.00" y2="475.00" stroke="#4a4a4a" stroke-width="0.7" stroke-dasharray="2.8 1.2 0.9 1.2"/>
<path d="M465.75,468 L465.75,594.25" fill="none" stroke="#7a7a7a" stroke-width="0.9"/>
<line x1="463.25" y1="468.00" x2="463.25" y2="594.00" stroke="#888" stroke-width="0.8"/>
<path d="M463.25,468 L449.5,468 Q445.75,468 445.75,471.8 L445.75,586 Q445.75,592.5 452,592.8 L463.25,593" fill="#fbfcfb" stroke="#7a7a7a" stroke-width="0.9"/>
<ellipse cx="455" cy="480" rx="2.8" ry="4.3" fill="#fff" stroke="#7a7a7a" stroke-width="0.8"/>
<line x1="370.00" y1="480.00" x2="466.00" y2="480.00" stroke="#4a4a4a" stroke-width="0.8" stroke-dasharray="2.8 1.2 0.9 1.2"/>
<ellipse cx="455" cy="511.25" rx="2.8" ry="4.3" fill="#fff" stroke="#7a7a7a" stroke-width="0.8"/>
<line x1="370.00" y1="511.25" x2="466.00" y2="511.25" stroke="#4a4a4a" stroke-width="0.8" stroke-dasharray="2.8 1.2 0.9 1.2"/>
<ellipse cx="455" cy="542.25" rx="2.8" ry="4.3" fill="#fff" stroke="#7a7a7a" stroke-width="0.8"/>
<line x1="370.00" y1="542.25" x2="466.00" y2="542.25" stroke="#4a4a4a" stroke-width="0.8" stroke-dasharray="2.8 1.2 0.9 1.2"/>
<ellipse cx="455" cy="573.25" rx="2.8" ry="4.3" fill="#fff" stroke="#7a7a7a" stroke-width="0.8"/>
<line x1="370.00" y1="573.25" x2="466.00" y2="573.25" stroke="#4a4a4a" stroke-width="0.8" stroke-dasharray="2.8 1.2 0.9 1.2"/>
<line x1="455.00" y1="400.00" x2="455.00" y2="468.00" stroke="#4a4a4a" stroke-width="0.9" stroke-dasharray="1.3 1.6"/>
<line x1="455.00" y1="468.00" x2="455.00" y2="583.00" stroke="#4a4a4a" stroke-width="0.7" stroke-dasharray="2.8 1.2 0.9 1.2"/>
<line x1="463.25" y1="400.00" x2="463.25" y2="468.00" stroke="#4a4a4a" stroke-width="0.9" stroke-dasharray="1.3 1.6"/>
<line x1="432.00" y1="405.50" x2="471.75" y2="405.50" stroke="#4a4a4a" stroke-width="0.9"/>
<polygon points="455.00,405.50 450.80,407.00 450.80,404.00" fill="#1e1e1e"/>
<polygon points="463.25,405.50 467.45,404.00 467.45,407.00" fill="#1e1e1e"/>
<text x="439.50" y="403.00" font-size="13" font-style="italic" text-anchor="start">9</text>
<line x1="376.75" y1="480.00" x2="376.75" y2="611.25" stroke="#4a4a4a" stroke-width="0.9"/>
<polygon points="376.75,480.00 378.25,484.20 375.25,484.20" fill="#1e1e1e"/>
<polygon points="376.75,611.25 375.25,607.05 378.25,607.05" fill="#1e1e1e"/>
<line x1="371.50" y1="515.75" x2="380.50" y2="506.75" stroke="#4a4a4a" stroke-width="0.9"/>
<line x1="371.50" y1="546.75" x2="380.50" y2="537.75" stroke="#4a4a4a" stroke-width="0.9"/>
<line x1="371.50" y1="577.75" x2="380.50" y2="568.75" stroke="#4a4a4a" stroke-width="0.9"/>
<text x="374.80" y="496.30" font-size="13" font-style="italic" text-anchor="middle" transform="rotate(-90 374.80 496.30)">32</text>
<text x="374.80" y="527.00" font-size="13" font-style="italic" text-anchor="middle" transform="rotate(-90 374.80 527.00)">32</text>
<text x="374.80" y="557.50" font-size="13" font-style="italic" text-anchor="middle" transform="rotate(-90 374.80 557.50)">32</text>
<text x="374.80" y="590.30" font-size="13" font-style="italic" text-anchor="middle" transform="rotate(-90 374.80 590.30)">32</text>
<line x1="373.75" y1="611.25" x2="402.50" y2="611.25" stroke="#4a4a4a" stroke-width="0.9" stroke-dasharray="1.3 1.6"/>
<line x1="400.00" y1="594.25" x2="463.75" y2="594.25" stroke="#7a7a7a" stroke-width="0.9"/>
<line x1="398.75" y1="612.50" x2="468.75" y2="612.50" stroke="#7a7a7a" stroke-width="0.9"/>
<path d="M463.75,594.25 L468.75,594.25 L468.75,612.5" fill="none" stroke="#7a7a7a" stroke-width="0.8"/>
<line x1="463.75" y1="594.25" x2="463.75" y2="612.50" stroke="#9a9a9a" stroke-width="0.8"/>
<path d="M455,613.9 L470,613.9" fill="none" stroke="#9a9a9a" stroke-width="0.8"/>
<g transform="translate(198 0)"><g transform="translate(416.5 0) scale(-1 1)">
<path d="M109.6,598 L109.6,528.2 Q109.6,526 112,526 L122.6,526 Q125.4,526 125.8,530 C127,545 129,557 131,568.5 C132.5,578 134.5,585 139,589.5 C142,592.5 146,594 150,594.25" fill="#fff" stroke="#7a7a7a" stroke-width="0.9"/>
<path d="M109.6,536.5 Q107.4,536.8 107.4,539 L107.4,590.4" fill="none" stroke="#7a7a7a" stroke-width="0.9"/>
<path d="M118.3,535.5 L118.3,545 M114.5,540 L122,540 M118.3,568 L118.3,577.5 M114.5,572.5 L122,572.5" fill="none" stroke="#777" stroke-width="0.6" stroke-dasharray="3.2 1 1 1"/>
<rect x="103.10" y="568.20" width="1.80" height="22.00" fill="#fff" stroke="#7a7a7a" stroke-width="0.8"/>
<path d="M103,575.8 L93.2,575.8 L91.2,577.5 L93.2,579.2 L103,579.2 Z" fill="#727272" stroke="#5a5a5a" stroke-width="0.5"/>
<path d="M103,585.8 L93.2,585.8 L91.2,587.5 L93.2,589.2 L103,589.2 Z" fill="#727272" stroke="#5a5a5a" stroke-width="0.5"/>
<path d="M103.2,590.4 L103.2,621.4 L140.2,621.4 L140.2,600 L129.6,600" fill="none" stroke="#7a7a7a" stroke-width="0.9"/>
<path d="M105,590.4 L105,617 Q105,618.5 106.5,618.5 L131,618.5" fill="none" stroke="#7a7a7a" stroke-width="0.8"/>
<line x1="108.70" y1="595.50" x2="108.70" y2="608.40" stroke="#8a8a8a" stroke-width="1.5"/>
<path d="M112.7,618.5 L112.7,584 Q112.7,581.4 115.3,581.4 L128.6,581.4 Q131.2,581.4 131.2,584 L131.2,599 L126.8,599" fill="#fff" stroke="#7a7a7a" stroke-width="0.9"/>
<path d="M114.4,618.5 L114.4,585 Q114.4,583.2 116.2,583.2 L127.7,583.2 Q129.5,583.2 129.5,585 L129.5,587" fill="none" stroke="#7a7a7a" stroke-width="0.7"/>
<path d="M118.5,611.4 L118.5,588.2 L128.9,588.2" fill="none" stroke="#505050" stroke-width="1.3"/>
<line x1="120.10" y1="589.50" x2="120.10" y2="610.50" stroke="#9a9a9a" stroke-width="0.8"/>
<path d="M128.3,589.7 L121.6,593.5 L126.6,594.3" fill="none" stroke="#505050" stroke-width="1.3"/>
<path d="M122.3,597.2 L130,597.2" fill="none" stroke="#6a6a6a" stroke-width="1.2"/>
<path d="M118.5,604.2 L128.9,604.2 L128.9,606.5" fill="none" stroke="#505050" stroke-width="1.3"/>
<path d="M121.3,605.9 L127.7,609.3 L127.7,611.3 L118.5,611.3" fill="none" stroke="#505050" stroke-width="1.3"/>
<path d="M121.6,617.6 L124.6,614.2" fill="none" stroke="#505050" stroke-width="1.5"/>
<path d="M130,598.3 L137,598.3 M130.5,599.3 L137,599.3" fill="none" stroke="#9a9a9a" stroke-width="0.7"/>
<line x1="129.60" y1="600.00" x2="129.60" y2="618.50" stroke="#7a7a7a" stroke-width="0.8"/>
</g></g>
<text x="458.00" y="668.80" font-size="12.8" text-anchor="middle" textLength="144.30" lengthAdjust="spacingAndGlyphs">Размеры для крепления</text>
<text x="457.20" y="682.00" font-size="12.8" text-anchor="middle" textLength="84.30" lengthAdjust="spacingAndGlyphs">задней стенки</text>
</g>
<g id="figE">
<rect x="613.25" y="437.50" width="129.25" height="193.75" fill="#fafcfb" stroke="#a8a8a8" stroke-width="0.9"/>
<path d="M666.90,434.20 C667.77,437.77 670.70,448.80 672.10,455.60 C673.50,462.40 674.67,469.27 675.30,475.00 C675.93,480.73 676.17,483.55 675.90,490.00 C675.63,496.45 675.10,505.67 673.70,513.70 C672.30,521.73 669.15,530.03 667.50,538.20 C665.85,546.37 664.55,555.05 663.80,562.70 C663.05,570.35 662.78,575.43 663.00,584.10 C663.22,592.77 664.18,606.13 665.10,614.70 C666.02,623.27 667.93,632.03 668.50,635.50 L674.60,635.50 C674.03,632.03 672.12,623.27 671.20,614.70 C670.28,606.13 669.32,592.77 669.10,584.10 C668.88,575.43 669.15,570.35 669.90,562.70 C670.65,555.05 671.95,546.37 673.60,538.20 C675.25,530.03 678.40,521.73 679.80,513.70 C681.20,505.67 681.73,496.45 682.00,490.00 C682.27,483.55 682.03,480.73 681.40,475.00 C680.77,469.27 679.60,462.40 678.20,455.60 C676.80,448.80 673.87,437.77 673.00,434.20 Z" fill="#fff" stroke="none"/>
<path d="M666.90,434.20 C667.77,437.77 670.70,448.80 672.10,455.60 C673.50,462.40 674.67,469.27 675.30,475.00 C675.93,480.73 676.17,483.55 675.90,490.00 C675.63,496.45 675.10,505.67 673.70,513.70 C672.30,521.73 669.15,530.03 667.50,538.20 C665.85,546.37 664.55,555.05 663.80,562.70 C663.05,570.35 662.78,575.43 663.00,584.10 C663.22,592.77 664.18,606.13 665.10,614.70 C666.02,623.27 667.93,632.03 668.50,635.50" fill="none" stroke="#a8a8a8" stroke-width="0.9"/>
<path d="M673.00,434.20 C673.87,437.77 676.80,448.80 678.20,455.60 C679.60,462.40 680.77,469.27 681.40,475.00 C682.03,480.73 682.27,483.55 682.00,490.00 C681.73,496.45 681.20,505.67 679.80,513.70 C678.40,521.73 675.25,530.03 673.60,538.20 C671.95,546.37 670.65,555.05 669.90,562.70 C669.15,570.35 668.88,575.43 669.10,584.10 C669.32,592.77 670.28,606.13 671.20,614.70 C672.12,623.27 674.03,632.03 674.60,635.50" fill="none" stroke="#a8a8a8" stroke-width="0.9"/>
<circle cx="631.25" cy="469.25" r="3.1" fill="#fff" stroke="#5c5c5c" stroke-width="0.85"/>
<line x1="621.75" y1="469.25" x2="640.75" y2="469.25" stroke="#4a4a4a" stroke-width="0.8" stroke-dasharray="2.8 1.2 0.9 1.2"/>
<line x1="631.25" y1="459.75" x2="631.25" y2="478.75" stroke="#4a4a4a" stroke-width="0.8" stroke-dasharray="2.8 1.2 0.9 1.2"/>
<circle cx="631.25" cy="540.5" r="3.1" fill="#fff" stroke="#5c5c5c" stroke-width="0.85"/>
<line x1="621.75" y1="540.50" x2="640.75" y2="540.50" stroke="#4a4a4a" stroke-width="0.8" stroke-dasharray="2.8 1.2 0.9 1.2"/>
<line x1="631.25" y1="531.00" x2="631.25" y2="550.00" stroke="#4a4a4a" stroke-width="0.8" stroke-dasharray="2.8 1.2 0.9 1.2"/>
<circle cx="631.25" cy="575.75" r="3.1" fill="#fff" stroke="#5c5c5c" stroke-width="0.85"/>
<line x1="621.75" y1="575.75" x2="640.75" y2="575.75" stroke="#4a4a4a" stroke-width="0.8" stroke-dasharray="2.8 1.2 0.9 1.2"/>
<line x1="631.25" y1="566.25" x2="631.25" y2="585.25" stroke="#4a4a4a" stroke-width="0.8" stroke-dasharray="2.8 1.2 0.9 1.2"/>
<circle cx="721.75" cy="469.25" r="3.1" fill="#fff" stroke="#5c5c5c" stroke-width="0.85"/>
<line x1="712.25" y1="469.25" x2="731.25" y2="469.25" stroke="#4a4a4a" stroke-width="0.8" stroke-dasharray="2.8 1.2 0.9 1.2"/>
<line x1="721.75" y1="459.75" x2="721.75" y2="478.75" stroke="#4a4a4a" stroke-width="0.8" stroke-dasharray="2.8 1.2 0.9 1.2"/>
<circle cx="721.75" cy="540.5" r="3.1" fill="#fff" stroke="#5c5c5c" stroke-width="0.85"/>
<line x1="712.25" y1="540.50" x2="731.25" y2="540.50" stroke="#4a4a4a" stroke-width="0.8" stroke-dasharray="2.8 1.2 0.9 1.2"/>
<line x1="721.75" y1="531.00" x2="721.75" y2="550.00" stroke="#4a4a4a" stroke-width="0.8" stroke-dasharray="2.8 1.2 0.9 1.2"/>
<circle cx="721.75" cy="575.75" r="3.1" fill="#fff" stroke="#5c5c5c" stroke-width="0.85"/>
<line x1="712.25" y1="575.75" x2="731.25" y2="575.75" stroke="#4a4a4a" stroke-width="0.8" stroke-dasharray="2.8 1.2 0.9 1.2"/>
<line x1="721.75" y1="566.25" x2="721.75" y2="585.25" stroke="#4a4a4a" stroke-width="0.8" stroke-dasharray="2.8 1.2 0.9 1.2"/>
<line x1="731.00" y1="469.25" x2="767.50" y2="469.25" stroke="#4a4a4a" stroke-width="0.75" stroke-dasharray="2.8 1.2 0.9 1.2"/>
<line x1="731.00" y1="540.50" x2="767.50" y2="540.50" stroke="#4a4a4a" stroke-width="0.75" stroke-dasharray="2.8 1.2 0.9 1.2"/>
<line x1="731.00" y1="575.75" x2="767.50" y2="575.75" stroke="#4a4a4a" stroke-width="0.75" stroke-dasharray="2.8 1.2 0.9 1.2"/>
<line x1="742.50" y1="631.25" x2="767.50" y2="631.25" stroke="#4a4a4a" stroke-width="0.9" stroke-dasharray="1.3 1.6"/>
<line x1="762.50" y1="469.25" x2="762.50" y2="540.50" stroke="#4a4a4a" stroke-width="0.9"/>
<polygon points="762.50,469.25 764.00,473.45 761.00,473.45" fill="#1e1e1e"/>
<polygon points="762.50,540.50 761.00,536.30 764.00,536.30" fill="#1e1e1e"/>
<line x1="762.50" y1="540.50" x2="762.50" y2="575.75" stroke="#4a4a4a" stroke-width="0.9"/>
<polygon points="762.50,540.50 764.00,544.70 761.00,544.70" fill="#1e1e1e"/>
<polygon points="762.50,575.75 761.00,571.55 764.00,571.55" fill="#1e1e1e"/>
<line x1="762.50" y1="575.75" x2="762.50" y2="631.25" stroke="#4a4a4a" stroke-width="0.9"/>
<polygon points="762.50,575.75 764.00,579.95 761.00,579.95" fill="#1e1e1e"/>
<polygon points="762.50,631.25 761.00,627.05 764.00,627.05" fill="#1e1e1e"/>
<text x="760.30" y="505.00" font-size="13" font-style="italic" text-anchor="middle" transform="rotate(-90 760.30 505.00)">64</text>
<text x="760.30" y="558.20" font-size="13" font-style="italic" text-anchor="middle" transform="rotate(-90 760.30 558.20)">32</text>
<text x="760.30" y="625.00" font-size="13" font-style="italic" text-anchor="start" textLength="23.80" lengthAdjust="spacingAndGlyphs" transform="rotate(-90 760.30 625.00)">47,5</text>
<text x="760.30" y="599.30" font-size="10.5" font-style="italic" text-anchor="start" textLength="16.80" lengthAdjust="spacingAndGlyphs" transform="rotate(-90 760.30 599.30)">min</text>
<path d="M636.8,411.5 L700.4,411.5 L730,492.5" fill="none" stroke="#4a4a4a" stroke-width="0.9"/>
<polygon points="720.74,466.53 718.06,463.05 720.50,462.14" fill="#1e1e1e"/>
<polygon points="722.76,471.97 725.44,475.45 723.00,476.36" fill="#1e1e1e"/>
<circle cx="651.2" cy="405.2" r="3.2" fill="none" stroke="#1c1c1c" stroke-width="0.95"/>
<line x1="647.80" y1="408.60" x2="654.80" y2="401.70" stroke="#1c1c1c" stroke-width="0.95"/>
<text x="657.60" y="408.00" font-size="12.8" font-style="italic" text-anchor="start">2</text>
<text x="668.20" y="401.60" font-size="7.5" font-style="italic" text-anchor="start" font-weight="bold">+</text>
<text x="667.30" y="407.60" font-size="7.5" font-style="italic" text-anchor="start" font-weight="bold">–</text>
<text x="674.80" y="401.30" font-size="6.4" font-style="italic" text-anchor="start" textLength="9.20" lengthAdjust="spacingAndGlyphs">0,2</text>
<text x="673.50" y="408.50" font-size="6.4" font-style="italic" text-anchor="start" textLength="8.60" lengthAdjust="spacingAndGlyphs">0,1</text>
<text x="641.60" y="423.60" font-size="12.5" font-style="italic" text-anchor="start">6</text>
<text x="649.80" y="423.60" font-size="9.6" font-style="italic" text-anchor="start" textLength="24.00" lengthAdjust="spacingAndGlyphs">отв.</text>
<text x="677.60" y="423.60" font-size="12.5" font-style="italic" text-anchor="start" textLength="19.20" lengthAdjust="spacingAndGlyphs">h12</text>
<text x="675.70" y="663.00" font-size="12.8" text-anchor="middle" textLength="217.00" lengthAdjust="spacingAndGlyphs">Размеры для крепления фиксаторов</text>
<text x="675.70" y="677.60" font-size="12.8" text-anchor="middle" textLength="217.50" lengthAdjust="spacingAndGlyphs">и зажимов рейлингов на внутренней</text>
<text x="677.20" y="692.40" font-size="12.8" text-anchor="middle" textLength="124.50" lengthAdjust="spacingAndGlyphs">поверхности фасада</text>
</g>
</svg>
</body></html>
